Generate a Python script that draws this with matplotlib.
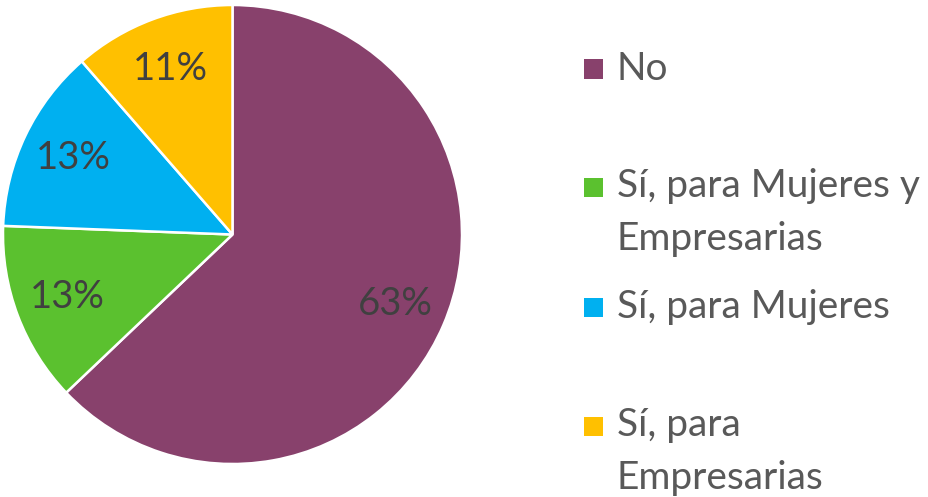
import textwrap
import matplotlib
matplotlib.use("Agg")
import matplotlib.pyplot as plt
from matplotlib.patches import Rectangle

categories = ["No", "Sí, para Mujeres y Empresarias", "Sí, para Mujeres", "Sí, para Empresarias"]
shares = [62.9, 12.7, 13.0, 11.4]
colors = ["#88416C", "#5BC12F", "#00B0F0", "#FFC000"]

plt.rcParams["font.family"] = ["Lato", "DejaVu Sans"]

fig = plt.figure(figsize=(9.29, 4.97), dpi=100)
W, H = 929, 497

# pie area: centre (232.5, 234.5) px, radius ~229.5 px
ax = fig.add_axes([3 / W, (H - 464) / H, 459 / W, 459 / H])
wedges, texts, autotexts = ax.pie(
    shares, colors=colors, startangle=90, counterclock=False,
    autopct="%.0f%%", pctdistance=0.77, radius=1,
    wedgeprops=dict(edgecolor="white", linewidth=1.8),
    textprops=dict(color="#404040", fontsize=27.5),
)
ax.set_xlim(-1, 1)
ax.set_ylim(-1, 1)
ax.set_aspect("equal")
ax.axis("off")

# legend drawn by hand to follow the uneven spacing of the original
row_y = [69, 187, 307, 426]
line_gap = 52  # px between wrapped lines
for name, col, y in zip(categories, colors, row_y):
    fig.patches.append(Rectangle((584 / W, (H - y - 9.5) / H), 19 / W, 19 / H,
                                 transform=fig.transFigure, facecolor=col, edgecolor="none"))
    label = textwrap.fill(name, 18)
    extra = label.count("\n") * line_gap
    # baseline alignment in matplotlib uses the last line
    fig.text(617 / W, (H - y - 11 - extra) / H, label, ha="left", va="baseline",
             fontsize=28, color="#595959", linespacing=1.6)

fig.savefig("out.png", dpi=100, facecolor="white")
